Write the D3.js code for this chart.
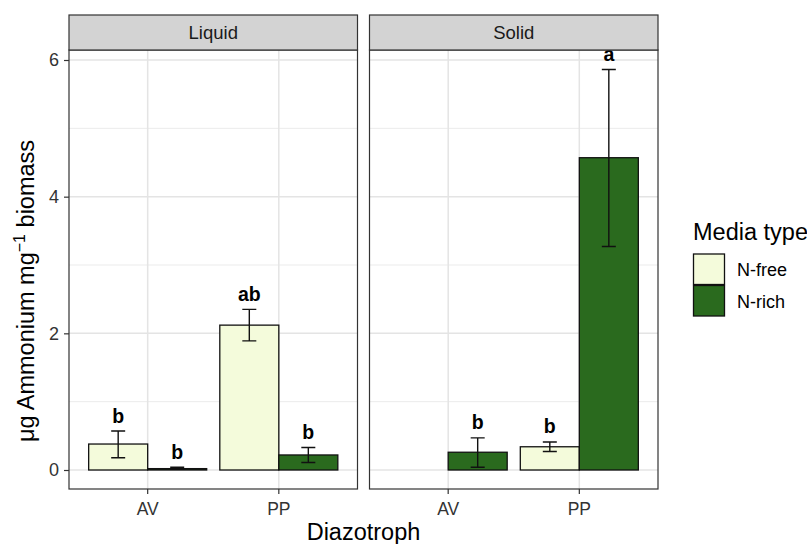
<!DOCTYPE html>
<meta charset="utf-8">
<title>Ammonium by diazotroph</title>
<style>
  body { margin: 0; background: #fff; }
  text { font-family: Arial, "Liberation Sans", sans-serif; }
</style>
<body>
<script src="https://d3js.org/d3.v7.min.js"></script>
<script>

const panels = ['Liquid', 'Solid'];
const strains = ['AV', 'PP'];
const media = ['N-free', 'N-rich'];
const yTicks = [0, 2, 4, 6];

// one row per bar: panel, strain, media, mean, lower, upper, letter
const barPanel  = ['Liquid', 'Liquid', 'Liquid', 'Liquid', 'Solid', 'Solid', 'Solid'];
const barStrain = ['AV', 'AV', 'PP', 'PP', 'AV', 'PP', 'PP'];
const barMedia  = ['N-free', 'N-rich', 'N-free', 'N-rich', 'N-rich', 'N-free', 'N-rich'];
const barMean   = [0.38, 0.02, 2.12, 0.22, 0.26, 0.34, 4.57];
const barLow    = [0.18, 0.01, 1.89, 0.11, 0.04, 0.27, 3.27];
const barHigh   = [0.57, 0.04, 2.35, 0.33, 0.47, 0.41, 5.86];
const barLetter = ['b', 'b', 'ab', 'b', 'b', 'b', 'a'];

const colours = ['#f4fbdb', '#2a6a1e'];

const width = 807, height = 544;
const panelW = 288.5, gap = 12;
const plotTop = 50, plotBottom = 489, stripH = 35;
const left = 69;

const svg = d3.select('body').append('svg')
    .attr('width', width)
    .attr('height', height);

const y = d3.scaleLinear().domain([0, 6]).range([470, 60]);
const fill = d3.scaleOrdinal().domain(media).range(colours);

const bars = barMean.map((m, i) => ({
  panel: barPanel[i], strain: barStrain[i], media: barMedia[i],
  mean: m, lo: barLow[i], hi: barHigh[i], letter: barLetter[i]
}));

panels.forEach((p, pi) => {
  const x0 = left + pi * (panelW + gap);
  // ggplot discrete expansion: 0.6 units each side of positions 1..2
  const x = d3.scaleLinear().domain([0.4, 2.6]).range([x0, x0 + panelW]);
  const cx = s => x(strains.indexOf(s) + 1);
  const bw = x(1.45) - x(1);

  const g = svg.append('g');

  // panel background + grid
  g.append('rect').attr('x', x0).attr('y', plotTop).attr('width', panelW).attr('height', plotBottom - plotTop).attr('fill', '#fff');
  g.selectAll('.minor').data([1, 3, 5]).enter().append('line')
    .attr('x1', x0).attr('x2', x0 + panelW)
    .attr('y1', d => y(d)).attr('y2', d => y(d))
    .attr('stroke', '#ebebeb').attr('stroke-width', 1);
  g.selectAll('.major').data(yTicks).enter().append('line')
    .attr('x1', x0).attr('x2', x0 + panelW)
    .attr('y1', d => y(d)).attr('y2', d => y(d))
    .attr('stroke', '#e4e4e4').attr('stroke-width', 1.5);
  g.selectAll('.vgrid').data(strains).enter().append('line')
    .attr('x1', d => cx(d)).attr('x2', d => cx(d))
    .attr('y1', plotTop).attr('y2', plotBottom)
    .attr('stroke', '#e4e4e4').attr('stroke-width', 1.5);

  const pb = bars.filter(b => b.panel === p);
  const bx = b => cx(b.strain) + (b.media === 'N-free' ? -bw : 0);

  g.selectAll('.bar').data(pb).enter().append('rect')
    .attr('x', bx)
    .attr('y', d => y(d.mean))
    .attr('width', bw)
    .attr('height', d => y(0) - y(d.mean))
    .attr('fill', d => fill(d.media))
    .attr('stroke', '#111').attr('stroke-width', 1.3);

  const ec = b => bx(b) + bw / 2;
  g.selectAll('.err').data(pb).enter().append('path')
    .attr('d', d => `M${ec(d) - 7},${y(d.hi)}H${ec(d) + 7}M${ec(d)},${y(d.hi)}V${y(d.lo)}M${ec(d) - 7},${y(d.lo)}H${ec(d) + 7}`)
    .attr('fill', 'none').attr('stroke', '#111').attr('stroke-width', 1.4);

  g.selectAll('.letter').data(pb).enter().append('text')
    .attr('x', ec)
    .attr('y', d => y(d.hi) - 8.5)
    .attr('text-anchor', 'middle')
    .attr('font-size', 19.5).attr('font-weight', 'bold')
    .text(d => d.letter);

  // panel border
  g.append('rect').attr('x', x0).attr('y', plotTop).attr('width', panelW).attr('height', plotBottom - plotTop)
    .attr('fill', 'none').attr('stroke', '#333').attr('stroke-width', 1.2);

  // strip
  g.append('rect').attr('x', x0).attr('y', plotTop - stripH).attr('width', panelW).attr('height', stripH)
    .attr('fill', '#d3d3d3').attr('stroke', '#333').attr('stroke-width', 1.2);
  g.append('text').attr('x', x0 + panelW / 2).attr('y', 39)
    .attr('text-anchor', 'middle').attr('font-size', 18.5).attr('fill', '#1a1a1a').text(p);

  // x axis
  g.selectAll('.xt').data(strains).enter().append('line')
    .attr('x1', d => cx(d)).attr('x2', d => cx(d))
    .attr('y1', plotBottom).attr('y2', plotBottom + 5)
    .attr('stroke', '#333').attr('stroke-width', 1.2);
  g.selectAll('.xl').data(strains).enter().append('text')
    .attr('x', d => cx(d)).attr('y', 515)
    .attr('text-anchor', 'middle').attr('font-size', 17.5).attr('fill', '#333')
    .text(d => d);
});

// y axis
const ya = svg.append('g').attr('transform', `translate(${left},0)`)
  .call(d3.axisLeft(y).tickValues(yTicks).tickFormat(d3.format('d')).tickSize(5).tickPadding(5));
ya.select('.domain').remove();
ya.selectAll('line').attr('stroke', '#333').attr('stroke-width', 1.2);
ya.selectAll('text').attr('font-size', 18).attr('fill', '#333').attr('font-family', 'Arial, "Liberation Sans", sans-serif');

// axis titles
svg.append('text').attr('x', left + panelW + gap / 2).attr('y', 540)
  .attr('text-anchor', 'middle').attr('font-size', 23.5).text('Diazotroph');

const yt = svg.append('text')
  .attr('transform', `translate(34,291) rotate(-90)`)
  .attr('text-anchor', 'middle').attr('font-size', 23.5);
yt.append('tspan').text('μg Ammonium mg');
yt.append('tspan').attr('dy', -9).attr('font-size', 16).text('−1');
yt.append('tspan').attr('dy', 9).text(' biomass');

// legend
const lg = svg.append('g').attr('transform', 'translate(693,240)');
lg.append('text').attr('x', 0).attr('y', 0).attr('font-size', 23.5).text('Media type');
lg.selectAll('.key').data(media).enter().append('rect')
  .attr('x', 0.5).attr('y', (d, i) => 14 + i * 31.5)
  .attr('width', 31).attr('height', 30.5)
  .attr('fill', d => fill(d)).attr('stroke', '#111').attr('stroke-width', 1.3);
lg.selectAll('.lab').data(media).enter().append('text')
  .attr('x', 44).attr('y', (d, i) => 36 + i * 31.5)
  .attr('font-size', 18).text(d => d);

</script>
</body>
